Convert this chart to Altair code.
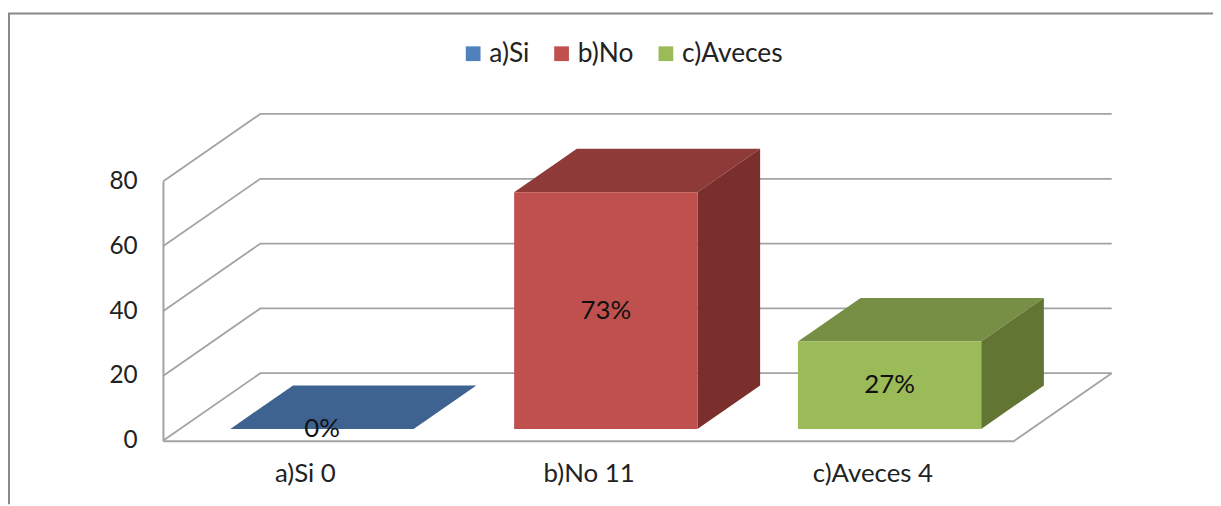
import altair as alt
import pandas as pd

categories = ["a)Si", "b)No", "c)Aveces"]
values = [0, 73, 27]
counts = [0, 11, 4]
shares = ["0%", "73%", "27%"]
ticks = [0, 20, 40, 60, 80]
front_colors = ["#4F81BD", "#C0504D", "#9BBB59"]
top_colors = ["#3E6391", "#8E3A38", "#778F44"]
side_colors = ["#2F4B6E", "#7A2F2D", "#637533"]

FONT = "Lato"
GRID = "#A3A3A3"
Y_MAX = 80
# oblique projection: full depth of the box expressed in axis units
DEPTH_X = 98 / 857 * 3
DEPTH_Y = 68 / 261 * Y_MAX
BAR_W = 184.5 / 857 * 3
Z0, Z1 = 0.176, 0.82

xs = alt.Scale(domain=[0, 3], nice=False, zero=False)
ys = alt.Scale(domain=[0, Y_MAX], nice=False)

front, top, side, labels = [], [], [], []
for i, (c, v) in enumerate(zip(categories, values)):
    left = i + 0.5 - BAR_W / 2 + Z0 * DEPTH_X
    right = left + BAR_W
    base = Z0 * DEPTH_Y
    t = base + v
    dx = (Z1 - Z0) * DEPTH_X
    dy = (Z1 - Z0) * DEPTH_Y
    front.append(dict(cat=c, x=left, x2=right, y=base, y2=t))
    labels.append(dict(x=(left + right) / 2, y=base + v / 2, text=shares[i]))
    for px, y1, y2 in [(left, t, t), (left + dx, t + dy, t), (right, t + dy, t), (right + dx, t + dy, t + dy)]:
        top.append(dict(x=px, y=y1, y2=y2, fill=top_colors[i]))
    for px, y1, y2 in [(right, t, base), (right + dx, t + dy, base + dy)]:
        side.append(dict(x=px, y=y1, y2=y2, fill=side_colors[i]))

grid = []
for v in ticks:
    grid += [dict(k=v, o=0, x=0, y=v), dict(k=v, o=1, x=DEPTH_X, y=v + DEPTH_Y), dict(k=v, o=2, x=3 + DEPTH_X, y=v + DEPTH_Y)]
grid += [dict(k=-1, o=0, x=3, y=0), dict(k=-1, o=1, x=3 + DEPTH_X, y=DEPTH_Y)]

label_expr = "[" + ",".join(f"'{c} {n}'" for c, n in zip(categories, counts)) + "][floor(datum.value)]"

x_axis = alt.Axis(values=[0.5, 1.5, 2.5], labelExpr=label_expr, title=None, grid=False, ticks=False,
                  domainColor=GRID, domainWidth=2, labelFont=FONT, labelFontSize=26, labelColor="#222222",
                  labelPadding=20, labelAngle=0)
y_axis = alt.Axis(values=ticks, title=None, grid=False, ticks=False, domainColor=GRID, domainWidth=2,
                  labelFont=FONT, labelFontSize=24.5, labelColor="#222222", labelPadding=26)

grid_layer = alt.Chart(pd.DataFrame(grid)).mark_line(color=GRID, strokeWidth=1.8).encode(
    x=alt.X("x:Q", scale=xs, axis=x_axis),
    y=alt.Y("y:Q", scale=ys, axis=y_axis),
    detail="k:N", order="o:Q")

top_layer = alt.Chart(pd.DataFrame(top)).mark_area(orient="vertical").encode(
    x=alt.X("x:Q", scale=xs), y=alt.Y("y:Q", scale=ys), y2="y2:Q",
    color=alt.Color("fill:N", scale=None))
side_layer = alt.Chart(pd.DataFrame(side)).mark_area(orient="vertical").encode(
    x=alt.X("x:Q", scale=xs), y=alt.Y("y:Q", scale=ys), y2="y2:Q",
    color=alt.Color("fill:N", scale=None))

front_layer = alt.Chart(pd.DataFrame(front)).mark_rect().encode(
    x=alt.X("x:Q", scale=xs), x2="x2:Q",
    y=alt.Y("y:Q", scale=ys), y2="y2:Q",
    color=alt.Color("cat:N", scale=alt.Scale(domain=categories, range=front_colors),
                    legend=alt.Legend(title=None, orient="none", legendX=299, legendY=-142, direction="horizontal",
                                      symbolType="square", symbolSize=220, symbolStrokeWidth=0,
                                      labelFont=FONT, labelFontSize=26.5, labelColor="#222222",
                                      labelOffset=3, columnPadding=19, padding=0)))

text_layer = alt.Chart(pd.DataFrame(labels)).mark_text(font=FONT, fontSize=26, color="#111111").encode(
    x=alt.X("x:Q", scale=xs), y=alt.Y("y:Q", scale=ys), text="text:N")

one = pd.DataFrame({"k": [0]})
border_top = alt.Chart(one).mark_rule(color="#888888", strokeWidth=2).encode(
    x=alt.value(-156), x2=alt.value(1057), y=alt.value(-169))
border_left = alt.Chart(one).mark_rule(color="#888888", strokeWidth=2).encode(
    x=alt.value(-155), y=alt.value(-169), y2=alt.value(325))

chart = alt.layer(grid_layer, top_layer, side_layer, front_layer, text_layer, border_top, border_left).properties(
    width=857, height=261,
    padding={"left": 156, "top": 173, "right": 200, "bottom": 64},
    autosize=alt.AutoSizeParams(type="none"),
    background="white",
).configure_view(stroke=None)

chart.save("out.html", embed_options={"renderer": "svg", "actions": False})
